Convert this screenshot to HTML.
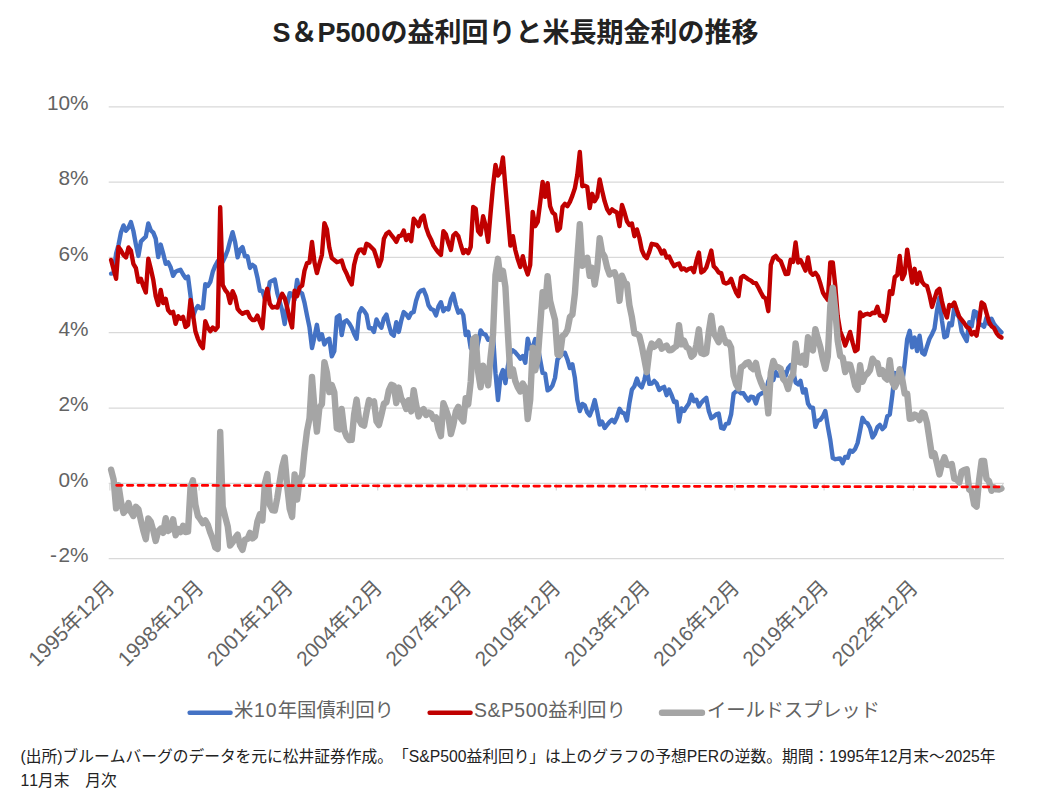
<!DOCTYPE html>
<html lang="ja">
<head>
<meta charset="utf-8">
<title>S＆P500の益利回りと米長期金利の推移</title>
<style>
html,body{margin:0;padding:0;background:#fff;}
body{width:1042px;height:792px;position:relative;overflow:hidden;font-family:"Liberation Sans","Noto Sans CJK JP",sans-serif;color:#222;}
h1{position:absolute;left:0;top:14px;width:1031px;margin:0;text-align:center;font-size:27px;line-height:38px;font-weight:bold;color:#222;white-space:nowrap;}
svg{position:absolute;left:0;top:0;}
.grid line{stroke:#d9d9d9;stroke-width:1.25;}
.ylab text,.xlab text,.legend text{fill:#636363;font-family:"Liberation Sans","Noto Sans CJK JP",sans-serif;}
.ylab text{font-size:20.8px;}
.xlab text{font-size:20.8px;}
.legend text{font-size:19.4px;}
.s{fill:none;stroke-linejoin:round;stroke-linecap:round;}
.blue{stroke:#4472c4;stroke-width:4.4;}
.red{stroke:#c00000;stroke-width:4.4;}
.gray{stroke:#a5a5a5;stroke-width:6.4;}
p.note{position:absolute;left:20.6px;top:745.1px;margin:0;width:1010px;font-size:15.74px;line-height:24px;color:#222;white-space:nowrap;text-spacing-trim:space-all;font-kerning:none;}
</style>
</head>
<body>
<h1>S＆P500の益利回りと米長期金利の推移</h1>
<svg width="1042" height="792" viewBox="0 0 1042 792">
<g class="grid">
<line x1="108.7" x2="1004" y1="106.8" y2="106.8"/>
<line x1="108.7" x2="1004" y1="182.1" y2="182.1"/>
<line x1="108.7" x2="1004" y1="257.4" y2="257.4"/>
<line x1="108.7" x2="1004" y1="332.7" y2="332.7"/>
<line x1="108.7" x2="1004" y1="408.0" y2="408.0"/>
<line x1="108.7" x2="1004" y1="483.3" y2="483.3"/>
<line x1="108.7" x2="1004" y1="558.6" y2="558.6"/>
<line x1="109.9" x2="109.9" y1="483.3" y2="490.6"/>
<line x1="199.1" x2="199.1" y1="483.3" y2="490.6"/>
<line x1="288.4" x2="288.4" y1="483.3" y2="490.6"/>
<line x1="377.7" x2="377.7" y1="483.3" y2="490.6"/>
<line x1="467.0" x2="467.0" y1="483.3" y2="490.6"/>
<line x1="556.3" x2="556.3" y1="483.3" y2="490.6"/>
<line x1="645.5" x2="645.5" y1="483.3" y2="490.6"/>
<line x1="734.8" x2="734.8" y1="483.3" y2="490.6"/>
<line x1="824.1" x2="824.1" y1="483.3" y2="490.6"/>
<line x1="913.4" x2="913.4" y1="483.3" y2="490.6"/>
<line x1="1002.7" x2="1002.7" y1="483.3" y2="490.6"/>
</g>
<g class="ylab">
<text x="88.5" y="110.1" text-anchor="end">10%</text>
<text x="88.5" y="185.4" text-anchor="end">8%</text>
<text x="88.5" y="260.7" text-anchor="end">6%</text>
<text x="88.5" y="336.0" text-anchor="end">4%</text>
<text x="88.5" y="411.3" text-anchor="end">2%</text>
<text x="88.5" y="486.6" text-anchor="end">0%</text>
<text x="88.5" y="561.9" text-anchor="end">-<tspan dx="1.5">2%</tspan></text>
</g>
<g class="xlab">
<text transform="translate(115.6,589.0) rotate(-45)" text-anchor="end">1995年12月</text>
<text transform="translate(204.9,589.0) rotate(-45)" text-anchor="end">1998年12月</text>
<text transform="translate(294.2,589.0) rotate(-45)" text-anchor="end">2001年12月</text>
<text transform="translate(383.4,589.0) rotate(-45)" text-anchor="end">2004年12月</text>
<text transform="translate(472.7,589.0) rotate(-45)" text-anchor="end">2007年12月</text>
<text transform="translate(562.0,589.0) rotate(-45)" text-anchor="end">2010年12月</text>
<text transform="translate(651.3,589.0) rotate(-45)" text-anchor="end">2013年12月</text>
<text transform="translate(740.6,589.0) rotate(-45)" text-anchor="end">2016年12月</text>
<text transform="translate(829.8,589.0) rotate(-45)" text-anchor="end">2019年12月</text>
<text transform="translate(919.1,589.0) rotate(-45)" text-anchor="end">2022年12月</text>
</g>
<g class="series">
<polyline class="s blue" points="111.1,273.6 113.6,273.2 116.1,253.6 118.5,245.0 121.0,232.2 123.5,225.4 126.0,230.7 128.5,227.7 130.9,222.0 133.4,231.0 135.9,244.6 138.4,255.9 140.9,241.6 143.3,239.0 145.8,236.7 148.3,223.5 150.8,230.3 153.3,232.6 155.7,238.6 158.2,257.0 160.7,244.6 163.2,253.6 165.7,263.8 168.1,262.3 170.6,267.2 173.1,275.8 175.6,271.7 178.1,270.6 180.5,269.8 183.0,274.3 185.5,278.1 188.0,276.6 190.5,295.8 192.9,316.9 195.4,309.7 197.9,306.0 200.4,308.2 202.9,308.2 205.3,284.1 207.8,286.0 210.3,281.9 212.8,271.7 215.3,265.7 217.7,261.2 220.2,258.5 222.7,261.9 225.2,256.6 227.7,250.2 230.1,240.8 232.6,232.2 235.1,242.0 237.6,257.4 240.1,249.5 242.5,247.2 245.0,256.3 247.5,256.3 250.0,267.9 252.5,264.9 254.9,266.8 257.4,277.4 259.9,290.9 262.4,290.9 264.9,298.8 267.3,298.1 269.8,282.2 272.3,280.7 274.8,279.6 277.3,293.2 279.7,301.5 282.2,310.5 284.7,324.0 287.2,304.5 289.7,293.2 292.1,293.9 294.6,299.6 297.1,280.0 299.6,291.7 302.1,293.5 304.5,302.6 307.0,315.4 309.5,327.4 312.0,348.1 314.5,336.8 316.9,324.8 319.4,339.5 321.9,334.2 324.4,344.4 326.9,340.2 329.3,338.7 331.8,356.4 334.3,351.1 336.8,317.3 339.3,315.4 341.7,335.0 344.2,321.8 346.7,320.3 349.2,323.3 351.7,327.8 354.1,333.8 356.6,338.7 359.1,313.5 361.6,308.2 364.1,310.9 366.5,314.6 369.0,328.2 371.5,328.2 374.0,331.9 376.5,319.5 378.9,324.4 381.4,327.8 383.9,318.4 386.4,314.6 388.9,325.2 391.3,333.5 393.8,335.7 396.3,322.2 398.8,331.9 401.3,320.3 403.7,312.0 406.2,314.3 408.7,318.0 411.2,313.1 413.7,312.0 416.1,300.7 418.6,293.2 421.1,290.5 423.6,289.8 426.1,295.8 428.5,305.2 431.0,309.0 433.5,310.1 436.0,315.4 438.5,306.3 440.9,302.2 443.4,311.2 445.9,308.2 448.4,309.4 450.9,299.2 453.3,293.9 455.8,304.8 458.3,312.7 460.8,310.5 463.3,315.0 465.7,335.0 468.2,331.9 470.7,348.1 473.2,351.1 475.7,354.9 478.1,342.9 480.6,330.4 483.1,333.8 485.6,334.6 488.1,339.9 490.5,339.5 493.0,334.6 495.5,373.4 498.0,400.1 500.5,376.4 502.9,370.0 505.4,383.2 507.9,365.8 510.4,353.0 512.9,350.4 515.3,352.3 517.8,355.3 520.3,358.7 522.8,356.0 525.3,362.8 527.7,338.7 530.2,348.5 532.7,347.4 535.2,339.1 537.7,345.9 540.1,359.4 542.6,373.0 545.1,373.7 547.6,390.3 550.1,388.8 552.5,385.4 555.0,377.9 557.5,359.4 560.0,356.4 562.5,354.2 564.9,352.7 567.4,359.4 569.9,368.1 572.4,364.3 574.9,377.9 577.3,399.7 579.8,411.0 582.3,403.9 584.8,405.4 587.3,412.5 589.7,415.5 592.2,409.1 594.7,400.1 597.2,411.4 599.7,424.6 602.1,421.6 604.6,428.0 607.1,424.9 609.6,421.9 612.1,419.7 614.5,422.3 617.0,417.0 619.5,408.8 622.0,412.5 624.5,413.6 626.9,420.4 629.4,403.1 631.9,389.6 634.4,386.2 636.9,378.6 639.3,385.0 641.8,387.3 644.3,380.1 646.8,369.2 649.3,383.9 651.7,383.5 654.2,380.9 656.7,383.5 659.2,389.9 661.7,388.0 664.1,386.9 666.6,395.2 669.1,389.6 671.6,395.2 674.1,402.0 676.5,401.6 679.0,421.6 681.5,408.4 684.0,411.0 686.5,406.9 688.9,403.5 691.4,394.8 693.9,401.2 696.4,399.7 698.9,406.5 701.3,402.7 703.8,400.1 706.3,397.8 708.8,411.0 711.3,418.2 713.7,416.7 716.2,414.4 718.7,413.6 721.2,428.0 723.7,428.7 726.1,423.8 728.6,423.4 731.1,414.4 733.6,393.7 736.1,391.4 738.5,391.1 741.0,393.3 743.5,393.3 746.0,397.5 748.5,400.5 750.9,396.7 753.4,397.1 755.9,403.5 758.4,395.6 760.9,393.7 763.3,392.6 765.8,392.6 768.3,381.3 770.8,375.6 773.3,380.1 775.7,372.2 778.2,375.6 780.7,375.6 783.2,371.9 785.7,375.6 788.1,368.1 790.6,365.1 793.1,370.7 795.6,382.4 798.1,384.3 800.5,380.9 803.0,392.6 805.5,389.2 808.0,403.5 810.5,407.6 812.9,407.6 815.4,426.8 817.9,420.8 820.4,419.7 822.9,416.3 825.3,411.0 827.8,426.4 830.3,440.0 832.8,458.1 835.3,459.2 837.7,458.8 840.2,458.5 842.7,463.3 845.2,456.9 847.7,457.7 850.1,450.5 852.6,451.7 855.1,449.0 857.6,443.0 860.1,430.6 862.5,417.8 865.0,421.9 867.5,423.4 870.0,428.0 872.5,437.4 874.9,434.0 877.4,427.2 879.9,424.9 882.4,429.1 884.9,426.4 887.3,416.3 889.8,414.4 892.3,395.2 894.8,373.0 897.3,376.4 899.7,370.0 902.2,383.5 904.7,363.2 907.2,339.1 909.7,330.8 912.1,347.4 914.6,337.6 917.1,351.1 919.6,335.7 922.1,352.7 924.5,354.5 927.0,346.3 929.5,338.7 932.0,334.2 934.5,328.6 936.9,311.2 939.4,297.7 941.9,320.3 944.4,337.2 946.9,336.1 949.3,323.3 951.8,325.2 954.3,307.1 956.8,313.9 959.3,317.6 961.7,331.6 964.2,336.5 966.7,341.0 969.2,322.2 971.7,326.3 974.1,311.2 976.6,312.4 979.1,324.8 981.6,324.8 984.1,326.7 986.5,317.6 989.0,324.0 991.5,318.8 994.0,324.0 996.5,327.1 998.9,329.7 1001.4,332.3"/>
<polyline class="s red" points="111.1,260.0 113.6,269.4 116.1,278.8 118.5,246.9 121.0,250.6 123.5,255.0 126.0,257.5 128.5,247.5 130.9,250.6 133.4,263.8 135.9,268.1 138.4,281.9 140.9,278.8 143.3,286.2 145.8,292.5 148.3,258.8 150.8,268.8 153.3,280.0 155.7,296.2 158.2,305.0 160.7,290.0 163.2,303.1 165.7,298.8 168.1,310.0 170.6,313.1 173.1,311.9 175.6,323.8 178.1,316.2 180.5,318.8 183.0,316.9 185.5,326.9 188.0,325.0 190.5,300.0 192.9,313.8 195.4,331.2 197.9,338.8 200.4,344.4 202.9,348.1 205.3,321.2 207.8,327.5 210.3,331.2 212.8,327.5 215.3,330.0 217.7,326.9 220.2,207.2 222.7,285.0 225.2,290.0 227.7,293.1 230.1,303.1 232.6,291.2 235.1,296.9 237.6,308.8 240.1,311.9 242.5,313.8 245.0,312.5 247.5,311.9 250.0,317.5 252.5,320.0 254.9,320.0 257.4,315.6 259.9,321.9 262.4,328.1 264.9,298.8 267.3,288.8 269.8,303.8 272.3,307.5 274.8,306.9 277.3,307.5 279.7,300.0 282.2,293.8 284.7,298.1 287.2,307.5 289.7,318.8 292.1,327.5 294.6,290.6 297.1,296.2 299.6,287.5 302.1,285.6 304.5,270.6 307.0,263.1 309.5,262.5 312.0,241.9 314.5,262.5 316.9,273.1 319.4,263.8 321.9,255.0 324.4,223.1 326.9,229.4 329.3,247.5 331.8,258.1 334.3,260.0 336.8,262.2 339.3,261.5 341.7,260.6 344.2,268.8 346.7,273.8 349.2,280.0 351.7,284.4 354.1,265.0 356.6,255.0 359.1,250.0 361.6,249.4 364.1,253.1 366.5,243.8 369.0,245.0 371.5,247.5 374.0,250.0 376.5,257.5 378.9,266.2 381.4,259.4 383.9,238.8 386.4,233.8 388.9,231.9 391.3,235.0 393.8,238.1 396.3,241.9 398.8,236.2 401.3,235.6 403.7,230.6 406.2,240.0 408.7,235.0 411.2,241.2 413.7,218.8 416.1,221.9 418.6,226.2 421.1,218.1 423.6,215.6 426.1,227.5 428.5,234.4 431.0,239.4 433.5,245.6 436.0,249.4 438.5,252.5 440.9,255.0 443.4,231.2 445.9,234.4 448.4,243.1 450.9,250.0 453.3,235.6 455.8,233.1 458.3,236.2 460.8,245.0 463.3,253.1 465.7,250.0 468.2,253.1 470.7,246.9 473.2,206.9 475.7,208.8 478.1,231.2 480.6,234.4 483.1,216.2 485.6,225.6 488.1,241.9 490.5,213.8 493.0,186.2 495.5,165.0 498.0,175.6 500.5,171.9 502.9,157.5 505.4,186.9 507.9,216.2 510.4,245.6 512.9,236.2 515.3,250.0 517.8,259.4 520.3,266.9 522.8,256.2 525.3,267.5 527.7,274.4 530.2,265.0 532.7,211.9 535.2,226.2 537.7,221.9 540.1,203.1 542.6,181.9 545.1,196.9 547.6,183.1 550.1,206.2 552.5,212.5 555.0,214.4 557.5,230.6 560.0,228.1 562.5,206.9 564.9,203.8 567.4,206.2 569.9,201.9 572.4,195.6 574.9,188.1 577.3,175.0 579.8,151.9 582.3,186.2 584.8,185.6 587.3,186.9 589.7,208.1 592.2,193.8 594.7,201.2 597.2,196.9 599.7,179.4 602.1,190.6 604.6,201.2 607.1,209.0 609.6,213.1 612.1,209.4 614.5,211.2 617.0,212.5 619.5,226.2 622.0,205.0 624.5,212.5 626.9,221.2 629.4,225.0 631.9,223.5 634.4,236.2 636.9,229.4 639.3,237.5 641.8,250.0 644.3,255.6 646.8,258.1 649.3,251.9 651.7,243.8 654.2,244.4 656.7,245.0 659.2,248.1 661.7,253.5 664.1,250.6 666.6,257.5 669.1,256.5 671.6,261.9 674.1,266.2 676.5,264.4 679.0,263.5 681.5,269.4 684.0,268.4 686.5,270.6 688.9,268.8 691.4,268.1 693.9,272.2 696.4,261.2 698.9,252.5 701.3,272.5 703.8,270.9 706.3,267.5 708.8,259.4 711.3,250.6 713.7,266.2 716.2,268.8 718.7,272.5 721.2,273.1 723.7,282.5 726.1,283.5 728.6,282.5 731.1,278.8 733.6,286.2 736.1,292.5 738.5,296.2 741.0,277.5 743.5,275.9 746.0,277.5 748.5,279.4 750.9,280.6 753.4,282.9 755.9,283.1 758.4,287.5 760.9,292.5 763.3,296.9 765.8,298.5 768.3,311.2 770.8,265.0 773.3,257.8 775.7,255.9 778.2,259.4 780.7,261.0 783.2,267.5 785.7,274.1 788.1,273.8 790.6,259.8 793.1,261.9 795.6,242.5 798.1,262.5 800.5,260.0 803.0,265.0 805.5,270.6 808.0,257.5 810.5,272.5 812.9,274.8 815.4,272.8 817.9,276.2 820.4,283.8 822.9,292.5 825.3,296.5 827.8,299.8 830.3,262.5 832.8,262.5 835.3,286.2 837.7,316.2 840.2,331.2 842.7,337.5 845.2,345.6 847.7,338.8 850.1,331.9 852.6,342.5 855.1,351.2 857.6,349.4 860.1,312.5 862.5,316.2 865.0,314.4 867.5,313.8 870.0,314.8 872.5,312.8 874.9,313.1 877.4,306.9 879.9,315.6 882.4,316.0 884.9,320.6 887.3,312.5 889.8,291.2 892.3,293.8 894.8,276.9 897.3,275.0 899.7,255.9 902.2,279.0 904.7,273.5 907.2,249.6 909.7,266.2 912.1,282.5 914.6,268.8 917.1,283.8 919.6,272.5 922.1,281.9 924.5,285.0 927.0,286.0 929.5,295.0 932.0,306.9 934.5,298.8 936.9,291.2 939.4,288.8 941.9,301.2 944.4,311.2 946.9,317.5 949.3,305.0 951.8,306.0 954.3,302.5 956.8,310.0 959.3,316.9 961.7,319.8 964.2,323.1 966.7,326.9 969.2,328.4 971.7,334.4 974.1,332.2 976.6,335.6 979.1,321.2 981.6,302.5 984.1,304.4 986.5,313.1 989.0,321.9 991.5,326.2 994.0,328.1 996.5,333.1 998.9,336.0 1001.4,337.5"/>
<polyline class="s gray" points="111.1,469.7 113.6,479.5 116.1,508.4 118.5,485.2 121.0,501.8 123.5,512.9 126.0,510.1 128.5,503.1 130.9,511.9 133.4,516.0 135.9,506.8 138.4,509.3 140.9,520.5 143.3,530.6 145.8,539.1 148.3,518.5 150.8,521.8 153.3,530.7 155.7,541.0 158.2,531.3 160.7,528.7 163.2,532.8 165.7,518.2 168.1,531.0 170.6,529.2 173.1,519.3 175.6,535.3 178.1,529.0 180.5,532.2 183.0,525.8 185.5,532.1 188.0,531.7 190.5,487.5 192.9,480.2 195.4,504.8 197.9,516.1 200.4,519.4 202.9,523.2 205.3,520.4 207.8,524.8 210.3,532.7 212.8,539.1 215.3,547.6 217.7,549.0 220.2,432.0 222.7,506.4 225.2,516.7 227.7,526.2 230.1,545.6 232.6,542.4 235.1,538.2 237.6,534.6 240.1,545.7 242.5,549.8 245.0,539.5 247.5,538.9 250.0,532.9 252.5,538.4 254.9,536.5 257.4,521.6 259.9,514.3 262.4,520.5 264.9,483.2 267.3,474.0 269.8,504.8 272.3,510.1 274.8,510.6 277.3,497.6 279.7,481.8 282.2,466.6 284.7,457.4 287.2,486.3 289.7,508.9 292.1,516.9 294.6,474.4 297.1,499.6 299.6,479.1 302.1,475.4 304.5,451.3 307.0,431.0 309.5,418.4 312.0,377.0 314.5,409.0 316.9,431.6 319.4,407.6 321.9,404.1 324.4,362.1 326.9,372.4 329.3,392.1 331.8,385.0 334.3,392.2 336.8,428.3 339.3,429.4 341.7,409.0 344.2,430.3 346.7,436.8 349.2,440.0 351.7,439.9 354.1,414.5 356.6,399.6 359.1,419.8 361.6,424.4 364.1,425.6 366.5,412.4 369.0,400.1 371.5,402.6 374.0,401.4 376.5,421.3 378.9,425.1 381.4,414.9 383.9,403.7 386.4,402.4 388.9,390.0 391.3,384.8 393.8,385.7 396.3,403.0 398.8,387.6 401.3,398.6 403.7,401.9 406.2,409.0 408.7,400.3 411.2,411.4 413.7,390.1 416.1,404.5 418.6,416.4 421.1,410.9 423.6,409.1 426.1,415.0 428.5,412.5 431.0,413.7 433.5,418.8 436.0,417.3 438.5,429.5 440.9,436.1 443.4,403.3 445.9,409.4 448.4,417.1 450.9,434.1 453.3,425.0 455.8,411.6 458.3,406.8 460.8,417.8 463.3,421.4 465.7,398.3 468.2,404.5 470.7,382.0 473.2,339.0 475.7,337.1 478.1,371.7 480.6,387.2 483.1,365.7 485.6,374.3 488.1,385.3 490.5,357.6 493.0,335.0 495.5,274.9 498.0,258.8 500.5,278.8 502.9,270.8 505.4,287.0 507.9,333.7 510.4,375.9 512.9,369.2 515.3,381.0 517.8,387.4 520.3,391.5 522.8,383.5 525.3,388.0 527.7,419.0 530.2,399.8 532.7,347.8 535.2,370.4 537.7,359.3 540.1,327.0 542.6,292.2 545.1,306.4 547.6,276.1 550.1,300.8 552.5,310.4 555.0,319.8 557.5,354.5 560.0,355.0 562.5,336.0 564.9,334.4 567.4,330.1 569.9,317.1 572.4,314.6 574.9,293.5 577.3,258.6 579.8,224.2 582.3,265.7 584.8,263.6 587.3,257.7 589.7,275.9 592.2,267.9 594.7,284.5 597.2,268.8 599.7,238.1 602.1,252.4 604.6,256.6 607.1,267.4 609.6,274.5 612.1,273.0 614.5,272.2 617.0,278.8 619.5,300.8 622.0,275.8 624.5,282.2 626.9,284.1 629.4,305.2 631.9,317.2 634.4,333.4 636.9,334.0 639.3,335.8 641.8,346.0 644.3,358.8 646.8,372.2 649.3,351.3 651.7,343.5 654.2,346.8 656.7,344.8 659.2,341.5 661.7,348.8 664.1,347.0 666.6,345.6 669.1,350.2 671.6,350.0 674.1,347.6 676.5,346.1 679.0,325.2 681.5,344.3 684.0,340.7 686.5,347.1 688.9,348.6 691.4,356.6 693.9,354.3 696.4,344.8 698.9,329.3 701.3,353.1 703.8,354.1 706.3,353.0 708.8,331.7 711.3,315.8 713.7,332.9 716.2,337.6 718.7,342.2 721.2,328.5 723.7,337.1 726.1,343.0 728.6,342.4 731.1,347.6 733.6,375.9 736.1,384.4 738.5,388.5 741.0,367.5 743.5,365.9 746.0,363.3 748.5,362.2 750.9,367.2 753.4,369.1 755.9,362.9 758.4,375.2 760.9,382.1 763.3,387.6 765.8,389.2 768.3,413.3 770.8,372.7 773.3,360.9 775.7,366.9 778.2,367.1 780.7,368.7 783.2,378.9 785.7,381.8 788.1,389.0 790.6,378.0 793.1,374.4 795.6,343.4 798.1,361.5 800.5,362.4 803.0,355.7 805.5,364.8 808.0,337.3 810.5,348.2 812.9,350.4 815.4,329.2 817.9,338.7 820.4,347.4 822.9,359.5 825.3,368.8 827.8,356.6 830.3,305.8 832.8,287.7 835.3,310.3 837.7,340.7 840.2,356.1 842.7,357.5 845.2,372.0 847.7,364.4 850.1,364.6 852.6,374.1 855.1,385.5 857.6,389.7 860.1,365.2 862.5,381.8 865.0,375.7 867.5,373.6 870.0,370.1 872.5,358.7 874.9,362.4 877.4,363.0 879.9,374.0 882.4,370.2 884.9,377.5 887.3,379.5 889.8,360.1 892.3,381.9 894.8,387.2 897.3,381.9 899.7,369.2 902.2,378.8 904.7,393.6 907.2,393.8 909.7,418.7 912.1,418.4 914.6,414.5 917.1,415.9 919.6,420.1 922.1,412.5 924.5,413.8 927.0,423.0 929.5,439.6 932.0,456.0 934.5,453.5 936.9,463.3 939.4,474.4 941.9,464.3 944.4,457.3 946.9,464.7 949.3,465.0 951.8,464.1 954.3,478.7 956.8,479.4 959.3,482.5 961.7,471.5 964.2,470.0 966.7,469.2 969.2,489.5 971.7,491.4 974.1,504.3 976.6,506.6 979.1,479.8 981.6,461.0 984.1,461.0 986.5,478.8 989.0,481.1 991.5,490.8 994.0,487.4 996.5,489.4 998.9,489.6 1001.4,488.5"/>
</g>
<line x1="116.6" y1="485.3" x2="999" y2="486.9" stroke="#ff0000" stroke-width="2.7" stroke-dasharray="5.6 5.1" stroke-linecap="round"/>
<g class="legend">
<line x1="189.6" x2="230.6" y1="712.7" y2="712.7" stroke="#4472c4" stroke-width="4.4" stroke-linecap="round"/>
<text x="234" y="716.8">米<tspan dx="0.7" letter-spacing="1">10</tspan>年国債利回り</text>
<line x1="429.6" x2="470.6" y1="712.7" y2="712.7" stroke="#c00000" stroke-width="4.4" stroke-linecap="round"/>
<text x="474" y="716.8"><tspan letter-spacing="0.52">S&amp;P500</tspan>益利回り</text>
<line x1="662" x2="702" y1="712.7" y2="712.7" stroke="#a5a5a5" stroke-width="6.4" stroke-linecap="round"/>
<text x="707" y="716.8" letter-spacing="-0.2">イールドスプレッド</text>
</g>
</svg>
<p class="note">(出所)ブルームバーグのデータを元に松井証券作成。「S&amp;P500益利回り」は上のグラフの予想PERの逆数。期間：1995年12月末～2025年<br>11月末　月次</p>
</body>
</html>
